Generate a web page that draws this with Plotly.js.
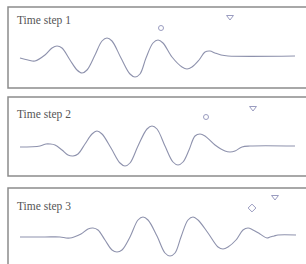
<!DOCTYPE html>
<html>
<head>
<meta charset="utf-8">
<script src="https://cdn.plot.ly/plotly-3.0.1.min.js"></script>
<style>html,body{margin:0;padding:0;background:#fff;}#chart{width:306px;height:264px;}</style>
</head>
<body>
<div id="chart"></div>
<script>
// Panel titles
var panelTitles = ["Time step 1", "Time step 2", "Time step 3"];

// Wave samples (position, amplitude)
var wave1X = [20, 28, 35, 45, 52, 57, 62, 70, 77, 82, 87, 95, 102, 107, 112, 121, 130, 135, 140, 146, 153, 158, 163, 172, 182, 187, 192, 199, 205, 210, 215, 221, 228, 295];
var wave1Y = [-2, -4, -5, 1, 8, 10, 8, -4, -14, -17, -14, 1, 15, 18, 15, -2, -18, -21, -18, -2, 13, 16, 13, -1, -11, -13, -11, -4, 4, 5, 3, 1, 0, 0];

var wave2X = [20, 40, 46, 50, 55, 62, 68, 73, 78, 85, 92, 97, 102, 111, 120, 125, 130, 138, 147, 152, 157, 165, 173, 178, 183, 189, 195, 200, 205, 215, 225, 230, 235, 242, 250, 295];
var wave2Y = [-1, 0, 2, 2, 1, -4, -9, -10, -8, 2, 12, 15, 12, -2, -17, -20, -17, 0, 17, 20, 17, 0, -16, -19, -16, -4, 10, 12, 10, 1, -5, -6, -5, -1, 0, 0];

var wave3X = [20, 45, 60, 66, 70, 74, 81, 88, 93, 98, 105, 112, 117, 122, 130, 138, 143, 148, 157, 165, 170, 175, 181, 188, 193, 198, 208, 218, 223, 228, 236, 243, 248, 253, 260, 267, 270, 274, 278, 296];
var wave3Y = [0, 0, 0, -1, -1, 0, 3, 8, 9, 7, -3, -13, -15, -13, 0, 17, 20, 17, 1, -16, -19, -16, 0, 17, 20, 17, 4, -10, -12, -10, -3, 7, 9, 7, 3, -1, 0, 1, 2, 2];

// Marker positions (position, amplitude)
var circleX = [161, 206];
var circleY = [28, 29];
var diamondX = [252];
var diamondY = [29];
var triX = [230, 253, 275];
var triY = [39, 38, 40];

var lineColor = "#8e92ad";
var markColor = "#9a9cc0";

var traces = [
  {x: wave1X, y: wave1Y, xaxis: "x", yaxis: "y", mode: "lines", line: {color: lineColor, width: 1.1, shape: "spline", smoothing: 1}},
  {x: wave2X, y: wave2Y, xaxis: "x", yaxis: "y2", mode: "lines", line: {color: lineColor, width: 1.1, shape: "spline", smoothing: 1}},
  {x: wave3X, y: wave3Y, xaxis: "x", yaxis: "y3", mode: "lines", line: {color: lineColor, width: 1.1, shape: "spline", smoothing: 1}},
  {x: [circleX[0]], y: [circleY[0]], xaxis: "x", yaxis: "y", mode: "markers", marker: {symbol: "circle-open", size: 5, color: markColor, line: {width: 1}}},
  {x: [circleX[1]], y: [circleY[1]], xaxis: "x", yaxis: "y2", mode: "markers", marker: {symbol: "circle-open", size: 5, color: markColor, line: {width: 1}}},
  {x: diamondX, y: diamondY, xaxis: "x", yaxis: "y3", mode: "markers", marker: {symbol: "diamond-open", size: 6, color: markColor, line: {width: 1}}},
  {x: [triX[0]], y: [triY[0]], xaxis: "x", yaxis: "y", mode: "markers", marker: {symbol: "triangle-down-open", size: 6, color: markColor, line: {width: 1}}},
  {x: [triX[1]], y: [triY[1]], xaxis: "x", yaxis: "y2", mode: "markers", marker: {symbol: "triangle-down-open", size: 6, color: markColor, line: {width: 1}}},
  {x: [triX[2]], y: [triY[2]], xaxis: "x", yaxis: "y3", mode: "markers", marker: {symbol: "triangle-down-open", size: 6, color: markColor, line: {width: 1}}}
];

var H = 264, W = 306;
function py(p) { return 1 - p / H; }
var hidden = {showgrid: false, zeroline: false, showticklabels: false, ticks: "", showline: false, fixedrange: true};

var boxes = [[7, 88], [97, 176], [188, 268]];
var shapes = boxes.map(function (b) {
  return {type: "rect", xref: "paper", yref: "paper", x0: 8 / W, x1: 1.05, y0: py(b[1]), y1: py(b[0]),
          line: {color: "#8c8c8c", width: 1.5}, fillcolor: "rgba(0,0,0,0)"};
});

var titleY = [20, 114, 206];
var annotations = panelTitles.map(function (t, i) {
  return {text: t, xref: "paper", yref: "paper", x: 15 / W, y: py(titleY[i]), xanchor: "left", yanchor: "middle",
          showarrow: false, font: {family: "Liberation Serif, Times New Roman, serif", size: 11.5, color: "#555"}};
});

var layout = {
  width: W, height: H,
  margin: {l: 0, r: 0, t: 0, b: 0},
  paper_bgcolor: "#fff", plot_bgcolor: "rgba(0,0,0,0)",
  showlegend: false,
  xaxis: Object.assign({range: [0, 306], domain: [0, 1]}, hidden),
  yaxis: Object.assign({range: [-32, 49], domain: [py(88), py(7)], anchor: "x"}, hidden),
  yaxis2: Object.assign({range: [-30, 49], domain: [py(176), py(97)], anchor: "x"}, hidden),
  yaxis3: Object.assign({range: [-27, 49], domain: [0, py(188)], anchor: "x"}, hidden),
  shapes: shapes,
  annotations: annotations
};

Plotly.newPlot("chart", traces, layout, {staticPlot: true, displayModeBar: false});
</script>
</body>
</html>
